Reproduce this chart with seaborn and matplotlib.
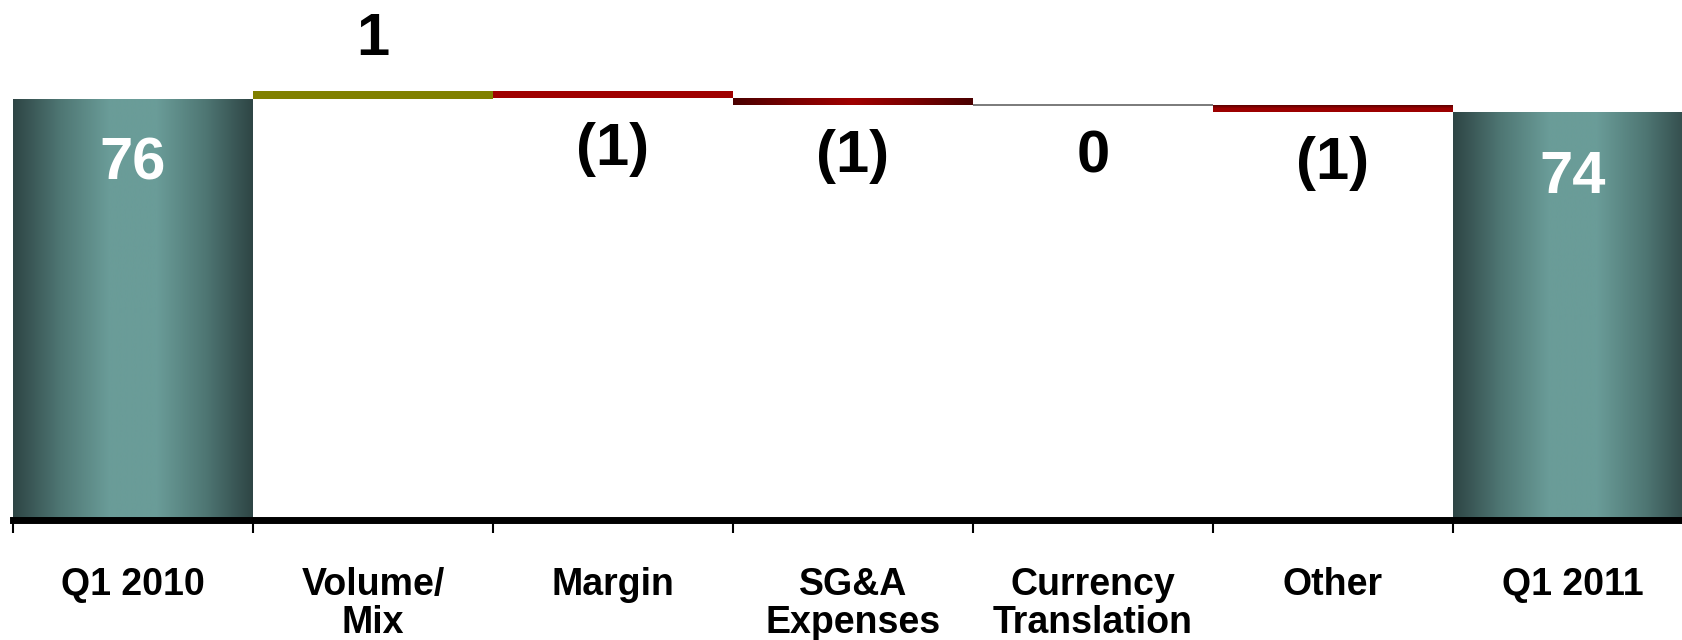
import numpy as np
import pandas as pd
import matplotlib
matplotlib.use("Agg")
import matplotlib.pyplot as plt
from matplotlib.colors import LinearSegmentedColormap
import seaborn as sns

# Datos del puente Q1 2010 -> Q1 2011
categories = ['Q1 2010', 'Volume/\nMix', 'Margin', 'SG&A\nExpenses',
              'Currency\nTranslation', 'Other', 'Q1 2011']
start_value = 75.9
deltas = [1.3, -1.2, -1.3, 0.0, -1.2]
value_labels = ['76', '1', '(1)', '(1)', '0', '(1)', '74']

# Calculamos base y tope de cada barra
levels = start_value + np.cumsum(deltas)
prev = np.concatenate([[start_value], levels[:-1]])
bottoms = [0.0] + list(np.minimum(prev, levels)) + [0.0]
tops = [start_value] + list(np.maximum(prev, levels)) + [levels[-1]]

df = pd.DataFrame({'categoria': categories,
                   'base': bottoms,
                   'tope': tops})
df['altura'] = df['tope'] - df['base']

sns.set_style("white")
plt.rcParams['font.family'] = ['Liberation Sans', 'DejaVu Sans']

fig = plt.figure(figsize=(16.82, 6.4), dpi=100)
ax = fig.add_axes([13 / 1682, 120 / 640, 7 * 240 / 1682, 519 / 640])

sns.barplot(data=df, x='categoria', y='altura', width=1.0, ax=ax,
            color='white', linewidth=0)

# Estilos de cada barra
teal = LinearSegmentedColormap.from_list(
    'teal', ['#2e4545', '#4f7774', '#6a9c98', '#6a9c98', '#4f7774', '#2e4545'])
rojo = LinearSegmentedColormap.from_list(
    'rojo', ['#4a0000', '#7a0000', '#a00000', '#7a0000', '#4a0000'])
rojo_v = LinearSegmentedColormap.from_list('rojo_v', ['#9c0000', '#9c0000', '#5a0000'])

estilos = ['teal', '#808000', '#a00000', 'rojo', 'linea', 'rojo_v', 'teal']

for patch, base, estilo in zip(ax.patches, df['base'], estilos):
    patch.set_y(base)
    if estilo == 'linea':
        patch.set_facecolor('none')
        patch.set_edgecolor('#707070')
        patch.set_linewidth(1.3)
        continue
    if estilo.startswith('#'):
        patch.set_facecolor(estilo)
        continue
    patch.set_facecolor('none')
    x0 = patch.get_x()
    x1 = x0 + patch.get_width()
    y0 = patch.get_y()
    y1 = y0 + patch.get_height()
    if estilo == 'rojo_v':
        grad = np.linspace(0, 1, 64).reshape(-1, 1)
        cmap = rojo_v
    else:
        grad = np.linspace(0, 1, 256).reshape(1, -1)
        cmap = teal if estilo == 'teal' else rojo
    im = ax.imshow(grad, extent=(x0, x1, y0, y1), origin='lower',
                   aspect='auto', cmap=cmap, zorder=2)
    im.set_clip_path(patch)

# Etiquetas de valores
for i, (base, tope, txt) in enumerate(zip(df['base'], df['tope'], value_labels)):
    if i in (0, len(categories) - 1):
        ax.text(i, tope - 11.8, txt, ha='center', va='center', color='white',
                fontsize=43, fontweight='bold', zorder=3)
    elif deltas[i - 1] > 0:
        ax.text(i, tope + 9.4, txt, ha='center', va='center', color='black',
                fontsize=43, fontweight='bold')
    else:
        ax.text(i, base - 9.3, txt, ha='center', va='center', color='black',
                fontsize=43, fontweight='bold')

ax.set_xlim(-0.5, len(categories) - 0.5)
ax.set_ylim(0, 93.5)
ax.set_xlabel('')
ax.set_ylabel('')
ax.set_yticks([])

for lado in ['left', 'top', 'right']:
    ax.spines[lado].set_visible(False)
ax.spines['bottom'].set_linewidth(5)
ax.spines['bottom'].set_color('black')
ax.spines['bottom'].set_zorder(4)

ax.set_xticks(range(len(categories)))
ax.set_xticklabels(categories, fontsize=27, fontweight='bold',
                   linespacing=1.05, color='black')
ax.set_xticks(np.arange(-0.5, len(categories) - 0.5, 1.0), minor=True)
ax.tick_params(axis='x', which='major', length=0, pad=34)
ax.tick_params(axis='x', which='minor', length=9, width=1.5, color='black',
               direction='out', bottom=True)

fig.savefig('out.png', dpi=100, facecolor='white')
